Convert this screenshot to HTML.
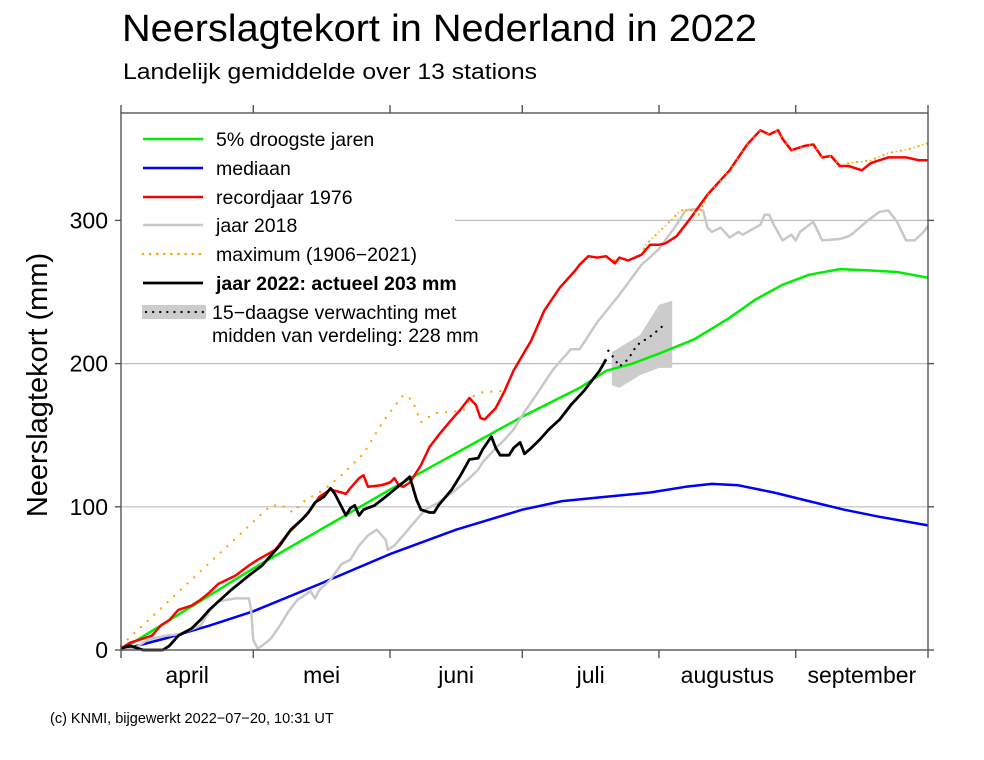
<!DOCTYPE html>
<html><head><meta charset="utf-8"><style>
html,body{margin:0;padding:0;background:#fff;}
svg{display:block;font-family:"Liberation Sans",sans-serif;}
</style></head><body>
<svg id="chart" width="984" height="760" viewBox="0 0 984 760">
<text x="122" y="41" font-size="38" textLength="635" lengthAdjust="spacingAndGlyphs" fill="#000">Neerslagtekort in Nederland in 2022</text>
<text x="123" y="79" font-size="22" textLength="414" lengthAdjust="spacingAndGlyphs" fill="#000">Landelijk gemiddelde over 13 stations</text>
<text transform="translate(47,385) rotate(-90)" text-anchor="middle" font-size="29" fill="#000">Neerslagtekort (mm)</text>
<text x="50" y="723" font-size="14.5" fill="#000">(c) KNMI, bijgewerkt 2022−07−20, 10:31 UT</text>
<g id="grid"></g>
<g id="series"></g>
<g id="axes"></g>
<g id="legend"></g>
</svg>
<script>
const monthLabels=["april","mei","juni","juli","augustus","september"];
const monthStartDays=[0,30,61,91,122,153,183];
const yTicks=[0,100,200,300];

const greenDays=[0,30,61,91,104,110,116,122,130,138,144,150,156,163,170,176,183];
const greenVals=[0,57,112,163,183,195,200,207,217,232,245,255,262,266,265,264,260];

const blueDays=[0,10,20,30,45,61,76,91,100,110,120,128,134,140,148,156,164,172,183];
const blueVals=[0,8,17,27,46,67,84,98,104,107,110,114,116,115,110,104,98,93,87];

const redDays=[0,2,4,7,9,11,13,16,18,20,22,26,29,31,35,38,41,42,43,45,47.5,50,51,52,54,55,56,59,61,62,63,64,65.5,68,70,72,75,77,79,80.5,81.5,82.5,85,87,89,93,96,99.5,103,104,106,108,110,112,113,115,118,120,122,123.5,126,129,133,138,142,145,147,149,150,152,155,157,159,161,163,165,168,170,174,178,181,183];
const redVals=[1,5,7,10,17,21,28,31,35,40,46,52,59,63,70,82,91,94,98,107,112,110,109,113,120,122,114,115,117,120,115,114,117,129,142,150,161,168,176,171,162,161,169,181,195,216,237,253,265,269,275,274,275,270,274,272,276,283,283,284,289,301,318,335,353,363,360,363,357,349,352,353,344,345,338,338,335,340,344,344,342,342];

const grayDays=[0,3,6,10,13,15,18,20,22,24,26,29,29.5,30,31,32,34,36,38,40,43,44,45,47.5,50,52,54,56,58,60,60.5,62,64,67,69,72,76,79,81,82,85,87,89,91,95,98,102,104,108,113,118,119.5,122,126,128,130.5,132,133,134,136,138,140,141,145,146,147,148,150,152,153,154,157,159,163,165,166,169,172,174,176,178,180,182,183];
const grayVals=[0,1,7,10,11,13,17,27,34,35,36,36,28,7,1,3,8,17,27,35,41,36,42,49,60,63,73,80,84,77,70,73,80,91,98,103,112,120,126,131,141,147,154,164,182,196,210,210,229,248,269,273,280,297,307,308,307,295,292,295,288,292,290,297,304,304,297,286,290,286,292,299,286,287,289,291,299,306,307,299,286,286,292,296];

const maxDays=[0,34,36.5,39,41,46,50,55,59.5,64,66,68,70,72,75,78,79,80.5,82,87,89,93,96,99.5,103,104,106,108,110,112,113,115,118,119,127,129.5,131,133,138,142,145,147,149,150,152,155,157,159,161,163,165,170,174,179,183];
const maxVals=[3,101,101,96,103,112,122,137,160,178,175,159,163,166,166,168,176,178,180,181,195,216,237,253,265,269,275,274,275,272,274,272,276,283,307,307,304,318,335,353,363,360,363,357,349,352,353,344,345,338,340,342,347,350,354];

const y2022Days=[0,2,5,9.5,11,13,16,18,20,22.5,25,27,29,32,34,36,38.5,41,42.5,44,46,47.5,48.5,51,52,53,54,55,57.5,60,62,64,65.5,67,68,70,71,72,75,77,79,81,82,84,85,86,88,89,90.5,91.5,93,95,97,99.5,102,105,108.5,110];
const y2022Vals=[1,3,0,0,3,10,15,21,28,35,42,47,52,59,66,73,84,91,96,103,107,113,109,94,99,101,94,98,101,107,112,117,121,105,98,96,96,101,112,122,133,134,140,149,141,136,136,141,145,137,141,147,154,161,171,181,195,203];

const fcDays=[111.3,113,117.7,122,125];
const fcUpper=[208,211,220,241,244];
const fcLower=[185,183,192,197,197];
const fcMeanDays=[110.5,112,113,115,117,119,120.5,122,123.5];
const fcMeanVals=[209,203,198,203,213,217,220,224,228];

const X0=121,X1=928,Y0=650,YT=113;
const xs=d=>X0+d*(X1-X0)/183;
const ys=v=>Y0-v*1.432;
const NS="http://www.w3.org/2000/svg";
function mk(tag,attrs,parent){const e=document.createElementNS(NS,tag);for(const k in attrs)e.setAttribute(k,attrs[k]);parent.appendChild(e);return e;}
const grid=document.getElementById('grid'),series=document.getElementById('series'),axes=document.getElementById('axes'),legend=document.getElementById('legend');

yTicks.forEach(v=>{
  if(v===0)return;
  const x0=v===300?455:X0;
  const g=mk('line',{x1:x0,x2:X1,y1:ys(v),y2:ys(v),stroke:'#bdbdbd','stroke-width':1.2},grid);
  
  
});

function pts(days,vals){return days.map((d,i)=>xs(d).toFixed(1)+','+ys(vals[i]).toFixed(1)).join(' ');}

const band=mk('polygon',{points:pts(fcDays,fcUpper)+' '+pts(fcDays.slice().reverse(),fcLower.slice().reverse()),fill:'#cccccc'},series);



function line(days,vals,color,w,name,dash){
  const a={points:pts(days,vals),fill:'none',stroke:color,'stroke-width':w,'stroke-linejoin':'round'};
  if(dash){a['stroke-dasharray']=dash;a['stroke-linecap']='round';}
  const p=mk('polyline',a,series);
  
  
}
line(blueDays,blueVals,'#0000ff',2.5,'series-mediaan');
line(greenDays,greenVals,'#00ee00',2.5,'series-5pct-droogste');
line(grayDays,grayVals,'#c8c8c8',2.5,'series-jaar-2018');
line(maxDays,maxVals,'#ffa500',2.2,'series-maximum','0.1 9');
line(redDays,redVals,'#ff0000',2.5,'series-recordjaar-1976');
line(maxDays.slice(33),maxVals.slice(33),'#ffa500',1.5,'series-maximum-overlay','0.1 9');
line(y2022Days,y2022Vals,'#000000',2.8,'series-jaar-2022');
line(fcMeanDays,fcMeanVals,'#000000',2.2,'forecast-median','0.1 7');

const fr=mk('rect',{x:X0,y:YT,width:X1-X0,height:Y0-YT,fill:'none',stroke:'#555','stroke-width':1.4},axes);


monthStartDays.forEach((d,i)=>{
  const x=xs(d);
  const t1=mk('line',{x1:x,x2:x,y1:Y0,y2:Y0+8,stroke:'#555','stroke-width':1.4},axes);
  
  
  const t2=mk('line',{x1:x,x2:x,y1:YT,y2:YT-8,stroke:'#555','stroke-width':1.4},axes);
  
  
  if(i<monthLabels.length){
    const tx=mk('text',{x:(x+xs(monthStartDays[i+1]))/2,y:683,'text-anchor':'middle','font-size':23,fill:'#000'},axes);
    tx.textContent=monthLabels[i];
    
    
  }
});
yTicks.forEach(v=>{
  const y=ys(v);
  const t1=mk('line',{x1:X0-6,x2:X0,y1:y,y2:y,stroke:'#555','stroke-width':1.4},axes);
  
  
  const t2=mk('line',{x1:X1,x2:X1+6,y1:y,y2:y,stroke:'#555','stroke-width':1.4},axes);
  
  
  const tx=mk('text',{x:108,y:y+8,'text-anchor':'end','font-size':23,fill:'#000'},axes);
  tx.textContent=String(v);
  
  
});

const legendLabels=["5% droogste jaren","mediaan","recordjaar 1976","jaar 2018","maximum (1906−2021)","jaar 2022: actueel 203 mm"];
const legendColors=['#00ee00','#0000ff','#ff0000','#c8c8c8','#ffa500','#000000'];
const legendY=[139,168,197,225,254,283];
legendLabels.forEach((lab,i)=>{
  const y=legendY[i];
  const a={x1:143,x2:203,y1:y,y2:y,stroke:legendColors[i],'stroke-width':i===5?2.8:2.5};
  if(i===4){a['stroke-dasharray']='0.1 7';a['stroke-linecap']='round';}
  const l=mk('line',a,legend);
  
  
  const t=mk('text',{x:216,y:y+7,'font-size':19.5,fill:'#000','font-weight':i===5?'bold':'normal'},legend);
  t.textContent=lab;
  
  
});
const fs=mk('rect',{x:142,y:305,width:64,height:14,fill:'#cccccc'},legend);


const fl=mk('line',{x1:146,x2:203,y1:312,y2:312,stroke:'#000','stroke-width':2.2,'stroke-dasharray':'0.1 7','stroke-linecap':'round'},legend);


const ft1=mk('text',{x:212,y:319,'font-size':19.5,fill:'#000'},legend);
ft1.textContent='15−daagse verwachting met';


const ft2=mk('text',{x:212,y:342,'font-size':19.5,fill:'#000'},legend);
ft2.textContent='midden van verdeling: 228 mm';


</script>
</body></html>
